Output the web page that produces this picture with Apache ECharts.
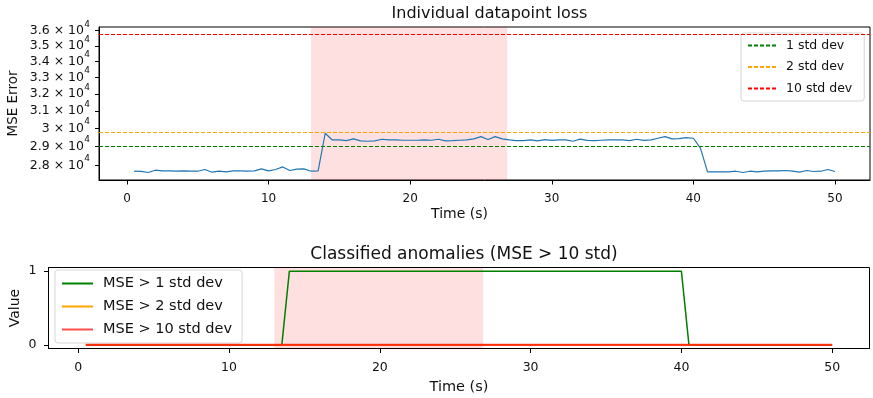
<!DOCTYPE html>
<html>
<head>
<meta charset="utf-8">
<script src="https://cdn.jsdelivr.net/npm/echarts@6/dist/echarts.min.js"></script>
<style>
  html, body { margin: 0; padding: 0; background: #ffffff; }
  #chart { width: 873px; height: 398px; }
</style>
</head>
<body>
<div id="chart"></div>
<script>
// ---- data ----
const timeSec = [
  0.5, 1.0, 1.5, 2.0, 2.5, 3.0, 3.5, 4.0, 4.5, 5.0,
  5.5, 6.0, 6.5, 7.0, 7.5, 8.0, 8.5, 9.0, 9.5, 10.0,
  10.5, 11.0, 11.5, 12.0, 12.5, 13.0, 13.5, 14.0, 14.5, 15.0,
  15.5, 16.0, 16.5, 17.0, 17.5, 18.0, 18.5, 19.0, 19.5, 20.0,
  20.5, 21.0, 21.5, 22.0, 22.5, 23.0, 23.5, 24.0, 24.5, 25.0,
  25.5, 26.0, 26.5, 27.0, 27.5, 28.0, 28.5, 29.0, 29.5, 30.0,
  30.5, 31.0, 31.5, 32.0, 32.5, 33.0, 33.5, 34.0, 34.5, 35.0,
  35.5, 36.0, 36.5, 37.0, 37.5, 38.0, 38.5, 39.0, 39.5, 40.0,
  40.5, 41.0, 41.5, 42.0, 42.5, 43.0, 43.5, 44.0, 44.5, 45.0,
  45.5, 46.0, 46.5, 47.0, 47.5, 48.0, 48.5, 49.0, 49.5, 50.0
];

// per-sample reconstruction loss
const mseLoss = [
  27700, 27690, 27634, 27752, 27716, 27716, 27700, 27716, 27700, 27700,
  27788, 27650, 27700, 27665, 27716, 27716, 27700, 27716, 27819, 27716,
  27788, 27923, 27737, 27804, 27819, 27700, 27716, 29733, 29364, 29364,
  29325, 29419, 29309, 29293, 29309, 29402, 29364, 29364, 29347, 29347,
  29347, 29364, 29347, 29402, 29309, 29325, 29347, 29364, 29419, 29545,
  29390, 29545, 29419, 29364, 29325, 29325, 29364, 29309, 29380, 29336,
  29364, 29364, 29293, 29408, 29336, 29325, 29347, 29364, 29364, 29364,
  29325, 29402, 29336, 29364, 29457, 29545, 29419, 29435, 29491, 29457,
  28916, 27665, 27665, 27665, 27665, 27700, 27634, 27700, 27665, 27700,
  27716, 27716, 27737, 27700, 27650, 27737, 27685, 27700, 27788, 27685
];

// threshold levels (mean + k * std)
const thresholdNames = ['1 std dev', '2 std dev', '10 std dev'];
const thresholdValues = [29021, 29772, 35780];

// anomaly flags per threshold
const above1Std = [
  0, 0, 0, 0, 0, 0, 0, 0, 0, 0,
  0, 0, 0, 0, 0, 0, 0, 0, 0, 0,
  0, 0, 0, 0, 0, 0, 0, 1, 1, 1,
  1, 1, 1, 1, 1, 1, 1, 1, 1, 1,
  1, 1, 1, 1, 1, 1, 1, 1, 1, 1,
  1, 1, 1, 1, 1, 1, 1, 1, 1, 1,
  1, 1, 1, 1, 1, 1, 1, 1, 1, 1,
  1, 1, 1, 1, 1, 1, 1, 1, 1, 1,
  0, 0, 0, 0, 0, 0, 0, 0, 0, 0,
  0, 0, 0, 0, 0, 0, 0, 0, 0, 0
];
const above2Std = [
  0, 0, 0, 0, 0, 0, 0, 0, 0, 0,
  0, 0, 0, 0, 0, 0, 0, 0, 0, 0,
  0, 0, 0, 0, 0, 0, 0, 0, 0, 0,
  0, 0, 0, 0, 0, 0, 0, 0, 0, 0,
  0, 0, 0, 0, 0, 0, 0, 0, 0, 0,
  0, 0, 0, 0, 0, 0, 0, 0, 0, 0,
  0, 0, 0, 0, 0, 0, 0, 0, 0, 0,
  0, 0, 0, 0, 0, 0, 0, 0, 0, 0,
  0, 0, 0, 0, 0, 0, 0, 0, 0, 0,
  0, 0, 0, 0, 0, 0, 0, 0, 0, 0
];
const above10Std = [
  0, 0, 0, 0, 0, 0, 0, 0, 0, 0,
  0, 0, 0, 0, 0, 0, 0, 0, 0, 0,
  0, 0, 0, 0, 0, 0, 0, 0, 0, 0,
  0, 0, 0, 0, 0, 0, 0, 0, 0, 0,
  0, 0, 0, 0, 0, 0, 0, 0, 0, 0,
  0, 0, 0, 0, 0, 0, 0, 0, 0, 0,
  0, 0, 0, 0, 0, 0, 0, 0, 0, 0,
  0, 0, 0, 0, 0, 0, 0, 0, 0, 0,
  0, 0, 0, 0, 0, 0, 0, 0, 0, 0,
  0, 0, 0, 0, 0, 0, 0, 0, 0, 0
];
const flagNames = ['MSE > 1 std dev', 'MSE > 2 std dev', 'MSE > 10 std dev'];

// labelled anomaly window (seconds)
const anomalyWindow = [13.0, 26.85];

// axis ticks and ranges
const timeTicks = [0, 10, 20, 30, 40, 50];
const timeRange = [-1.975, 52.475];
const lossTicks = [28000, 29000, 30000, 31000, 32000, 33000, 34000, 35000, 36000];
const lossRange = [27250, 36250];
const lossExponent = 4;
const flagTicks = [0, 1];
const flagRange = [-0.05, 1.05];

// ---- styles ----
const FONT = 'DejaVu Sans';
const INK = '#111111';
const thresholdColors = ['#008000', '#ffa500', '#ff0000'];
const flagColors = ['#008000', '#ffa500', 'rgba(255,0,0,0.7)'];
const lossColor = '#1f77b4';
const shade = 'rgba(255,0,0,0.12)';

const pairs = (ys) => timeSec.map((t, i) => [t, ys[i]]);

// mantissa part of the "m × 10^e" tick label
function mantissaLabel(v) {
  const m = +(v / Math.pow(10, lossExponent)).toFixed(1);
  return m + ' \u00d7 10';
}

function timeAxis(gridIndex, fs, nameGap, namePad, labelMargin) {
  return {
    type: 'value', gridIndex,
    min: timeRange[0], max: timeRange[1],
    name: 'Time (s)', nameLocation: 'middle', nameGap,
    nameTextStyle: { fontFamily: FONT, fontSize: fs + 2, color: INK, padding: namePad },
    axisLine: { show: true, onZero: false, lineStyle: { color: '#000', width: 1 } },
    axisTick: { show: true, length: 4.5, lineStyle: { color: '#000' }, customValues: timeTicks },
    axisLabel: { fontFamily: FONT, fontSize: fs, color: INK, margin: labelMargin, customValues: timeTicks,
                 showMinLabel: true, showMaxLabel: true },
    splitLine: { show: false }
  };
}

const chart = echarts.init(document.getElementById('chart'), null, { renderer: 'canvas' });

const thresholdSeries = thresholdNames.map((name, i) => ({
  name, type: 'line', xAxisIndex: 0, yAxisIndex: 0,
  data: [], symbol: 'none', color: thresholdColors[i],
  lineStyle: { color: thresholdColors[i], type: [4, 2], width: 1.2 },
  markLine: {
    silent: true, symbol: ['none', 'none'],
    label: { show: false },
    lineStyle: { color: thresholdColors[i], type: [4, 2], width: 1.2 },
    emphasis: { disabled: true },
    data: [{ yAxis: thresholdValues[i] }]
  }
}));

const flagData = [above1Std, above2Std, above10Std];
const flagSeries = flagNames.map((name, i) => ({
  name, type: 'line', xAxisIndex: 1, yAxisIndex: 2,
  data: pairs(flagData[i]), symbol: 'none', color: flagColors[i],
  lineStyle: { color: flagColors[i], width: i === 2 ? 2.2 : 1.5 },
  z: 3 + i,
  markArea: i === 0 ? {
    silent: true, itemStyle: { color: shade },
    data: [[{ xAxis: anomalyWindow[0] }, { xAxis: anomalyWindow[1] }]]
  } : undefined
}));

chart.setOption({
  animation: false,
  backgroundColor: '#ffffff',
  title: [
    { text: 'Individual datapoint loss', left: 484.5, textAlign: 'center', top: 1,
      textStyle: { fontFamily: FONT, fontSize: 16, fontWeight: 'normal', color: INK } },
    { text: 'Classified anomalies (MSE > 10 std)', left: 459, textAlign: 'center', top: 241,
      textStyle: { fontFamily: FONT, fontSize: 17, fontWeight: 'normal', color: INK } }
  ],
  grid: [
    { left: 99, top: 27, width: 771, height: 153, outerBoundsMode: 'none', containLabel: false,
      show: true, borderColor: '#000', borderWidth: 1, backgroundColor: 'transparent' },
    { left: 48.5, top: 267.5, width: 821, height: 81, outerBoundsMode: 'none', containLabel: false,
      show: true, borderColor: '#000', borderWidth: 1, backgroundColor: 'transparent' }
  ],
  legend: [
    {
      data: thresholdNames, orient: 'vertical', left: 741, top: 33,
      itemWidth: 28, itemHeight: 12, itemGap: 8.5,
      padding: [6, 12, 6, 6],
      backgroundColor: 'rgba(255,255,255,0.8)', borderColor: '#d5d5d5', borderWidth: 1, borderRadius: 3,
      itemStyle: { opacity: 0 },
      textStyle: { fontFamily: FONT, fontSize: 12.5, color: INK, padding: [0, 0, 0, 5] },
      selectedMode: false
    },
    {
      data: flagNames, orient: 'vertical', left: 55, top: 270,
      itemWidth: 31, itemHeight: 14, itemGap: 8,
      padding: [6, 10, 6, 6],
      backgroundColor: 'rgba(255,255,255,0.8)', borderColor: '#d5d5d5', borderWidth: 1, borderRadius: 3,
      itemStyle: { opacity: 0 },
      textStyle: { fontFamily: FONT, fontSize: 14.5, color: INK, padding: [0, 0, 0, 5] },
      selectedMode: false
    }
  ],
  xAxis: [
    timeAxis(0, 12, 27, [0, 50, 0, 0], 13),
    timeAxis(1, 12.5, 31, [0, 0, 0, 0], 13)
  ],
  yAxis: [
    {
      type: 'log', gridIndex: 0, logBase: 10,
      min: lossRange[0], max: lossRange[1],
      name: 'MSE Error', nameLocation: 'middle', nameGap: 79, nameRotate: 90,
      nameMoveOverlap: false,
      nameTextStyle: { fontFamily: FONT, fontSize: 13.5, color: INK },
      axisLine: { show: true, onZero: false, lineStyle: { color: '#000', width: 1 } },
      axisTick: { show: true, length: 4, lineStyle: { color: '#000' }, customValues: lossTicks },
      axisLabel: {
        customValues: lossTicks, margin: 15, color: INK,
        fontFamily: FONT, fontSize: 12.5, lineHeight: 13,
        showMinLabel: true, showMaxLabel: true,
        formatter: mantissaLabel
      },
      splitLine: { show: false }
    },
    {
      // exponent (superscript) part of the same tick labels
      type: 'log', gridIndex: 0, logBase: 10, position: 'left', offset: 0,
      min: lossRange[0], max: lossRange[1],
      axisLine: { show: false }, axisTick: { show: false }, splitLine: { show: false },
      axisLabel: {
        customValues: lossTicks, margin: 9, color: INK,
        fontFamily: FONT, fontSize: 9, lineHeight: 9,
        verticalAlign: 'bottom', padding: [0, 0, 2, 0],
        showMinLabel: true, showMaxLabel: true,
        formatter: () => String(lossExponent)
      }
    },
    {
      type: 'value', gridIndex: 1,
      min: flagRange[0], max: flagRange[1],
      name: 'Value', nameLocation: 'middle', nameGap: 26.5, nameRotate: 90,
      nameMoveOverlap: false,
      nameTextStyle: { fontFamily: FONT, fontSize: 14, color: INK },
      axisLine: { show: true, onZero: false, lineStyle: { color: '#000', width: 1 } },
      axisTick: { show: true, length: 4.5, lineStyle: { color: '#000' }, customValues: flagTicks },
      axisLabel: { fontFamily: FONT, fontSize: 12.5, color: INK, margin: 12, customValues: flagTicks,
                   showMinLabel: true, showMaxLabel: true },
      splitLine: { show: false }
    }
  ],
  series: [
    {
      name: 'MSE', type: 'line', xAxisIndex: 0, yAxisIndex: 0,
      data: pairs(mseLoss), symbol: 'none', color: lossColor,
      lineStyle: { color: lossColor, width: 1.2 },
      z: 3,
      markArea: {
        silent: true, itemStyle: { color: shade },
        data: [[{ xAxis: anomalyWindow[0] }, { xAxis: anomalyWindow[1] }]]
      }
    },
    ...thresholdSeries,
    ...flagSeries
  ]
});
</script>
</body>
</html>
